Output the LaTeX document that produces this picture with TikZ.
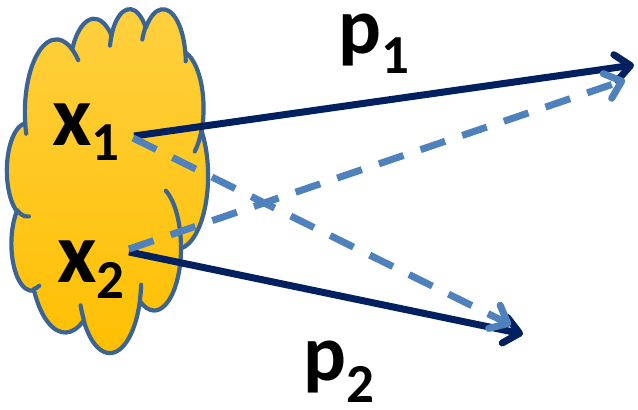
\documentclass[tikz,border=0pt]{standalone}
\usepackage{fontspec}
\setmainfont{Carlito}
\usetikzlibrary{arrows.meta}
\definecolor{navy}{HTML}{002060}
\definecolor{dashblue}{HTML}{4F81BD}
\definecolor{cloudline}{HTML}{3C6493}
\definecolor{cloudtop}{HTML}{FFD040}
\definecolor{cloudbot}{HTML}{FFBF00}
\def\cldsx{1}
\def\cldsy{1}
\newcommand\cldarc[4]{%
 \pgfextra{%
  \pgfmathsetmacro\cldS{#3/6}%
  \pgfmathsetmacro\cldE{#3/6+#4/6}%
  \pgfmathsetmacro\cldA{#1*\cldsx}%
  \pgfmathsetmacro\cldB{#2*\cldsy}%
  \pgfmathsetmacro\cldTSl{\cldS+asin(sin(atan2(\cldA*sin(\cldS),\cldB*cos(\cldS))-\cldS))}%
  \pgfmathsetmacro\cldTEl{\cldE+asin(sin(atan2(\cldA*sin(\cldE),\cldB*cos(\cldE))-\cldE))}%
  \xdef\cldTS{\cldTSl}\xdef\cldTE{\cldTEl}%
 }%
 arc[x radius=#1, y radius=#2, start angle=\cldTS, end angle=\cldTE]%
}
\newcommand\bigsz{\fontsize{86}{86}\selectfont}
\newcommand\subsz{\fontsize{55}{55}\selectfont}
\newcommand\psz{\fontsize{80}{80}\selectfont}
\tikzset{
  cloudbody/.style={draw=cloudline, line width=4.2pt, top color=cloudtop, bottom color=cloudbot, line join=round},
  cloudinner/.style={draw=cloudline, line width=4.2pt, line cap=round},
  lbl/.style={inner sep=0pt, anchor=base west, font=\bfseries},
  solidarrow/.style={draw=navy, line width=7pt, -{Straight Barb[length=15pt, width=26pt, round]}},
  dasharrow/.style={draw=dashblue, line width=7pt, dash pattern=on 26pt off 18pt, -{Straight Barb[length=15pt, width=26pt, round]}}
}
\begin{document}
\begin{tikzpicture}[x=1pt,y=-1pt]
\useasboundingbox (0,0) rectangle (638,410);
\begin{scope}[shift={(7,8)}, x=4.653pt, y=-7.96pt]
\path[cloudbody] (3.900,14.370)
  \cldarc{6.753}{9.190}{-1142.9249}{742.6832}
  \cldarc{5.333}{7.267}{-864.6143}{539.6714}
  \cldarc{4.365}{5.945}{-874.8475}{598.3381}
  \cldarc{4.857}{6.595}{-785.9164}{703.4504}
  \cldarc{5.333}{7.273}{-472.2533}{654.1615}
  \cldarc{6.775}{9.220}{-277.6035}{781.6140}
  \cldarc{5.785}{7.867}{3.7501}{684.2000}
  \cldarc{6.752}{9.215}{134.7096}{691.0353}
  \cldarc{7.720}{10.543}{397.4558}{454.2661}
  \cldarc{4.360}{5.918}{-1649.6525}{880.4134}
  \cldarc{4.345}{5.945}{-1480.9710}{915.1131}
  -- cycle;
\path[cloudinner]
  (4.693,26.177) \cldarc{4.345}{5.945}{520.4520}{158.5770}
  (6.928,34.899) \cldarc{4.360}{5.918}{441.6628}{68.6848}
  (16.478,39.090) \cldarc{6.752}{9.215}{825.7449}{84.4866}
  (28.827,34.751) \cldarc{6.752}{9.215}{38.7196}{95.9901}
  (34.129,22.954) \cldarc{5.785}{7.867}{-421.7541}{425.5042}
  (41.798,15.354) \cldarc{5.333}{7.273}{181.9082}{166.5090}
  (38.324,5.426) \cldarc{4.857}{6.595}{-82.4660}{89.1534}
  (29.078,3.952) \cldarc{4.857}{6.595}{-895.0887}{109.1722}
  (22.141,4.720) \cldarc{4.365}{5.945}{-980.9656}{106.1181}
  (14.000,5.192) \cldarc{6.753}{9.190}{-400.2417}{73.9161}
  (4.127,15.789) \cldarc{6.753}{9.190}{945.9261}{71.1490};
\end{scope}
\node[lbl] (x1) at (52,145) {\bigsz x\subsz\raisebox{-15pt}{1}};
\node[lbl] (x2) at (57,282) {\bigsz x\subsz\raisebox{-16pt}{2}};
\node[lbl] (p1) at (338,53) {\psz p\subsz\raisebox{-20pt}{1}};
\node[lbl] (p2) at (303,380) {\psz p\subsz\raisebox{-22pt}{2}};
\coordinate (s1) at (134,136);
\coordinate (e1) at (634,65);
\coordinate (s2) at (129,252);
\coordinate (e2) at (523,334);
\coordinate (d1s) at (133,138);
\coordinate (d1e) at (511,325);
\coordinate (d2s) at (129,249);
\coordinate (d2e) at (625,80);
\draw[solidarrow] (s1) -- (e1);
\draw[solidarrow] (s2) -- (e2);
\draw[dasharrow] (d1s) -- (d1e);
\draw[dasharrow] (d2s) -- (d2e);
\end{tikzpicture}
\end{document}
